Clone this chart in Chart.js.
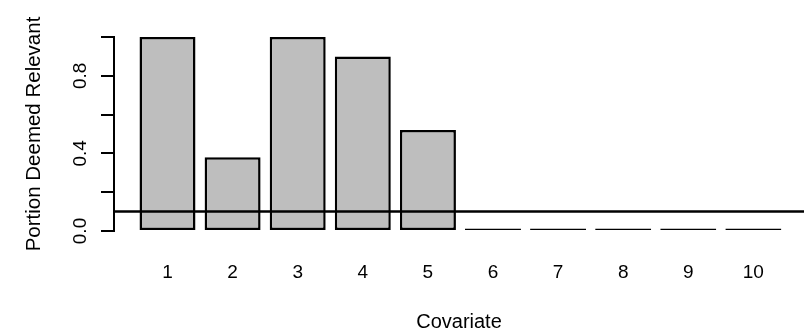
<!DOCTYPE html>
<html>
<head>
<meta charset="utf-8">
<script src="https://cdn.jsdelivr.net/npm/chart.js@4/dist/chart.umd.min.js"></script>
<style>
  body { margin: 0; background: #fff; }
  canvas { display: block; }
</style>
</head>
<body>
<canvas id="myChart" width="804" height="334"></canvas>
<script>
// Covariates and the share of runs in which each one was kept
const covariates = [1, 2, 3, 4, 5, 6, 7, 8, 9, 10];
const portion = [1.0, 0.38, 1.0, 0.9, 0.52, 0, 0.013, 0.013, 0, 0];
const cutoff = 0.1;
const yTickLabels = ["0.0", "0.4", "0.8"];

const xMin = 0.178;
const xMax = 10.778;

const font = "'Liberation Sans', Arial, sans-serif";

const barData = covariates.map((c, i) => ({ x: c, y: portion[i] }));

new Chart(document.getElementById('myChart'), {
    type: 'bar',
    data: {
        datasets: [
            {
                type: 'line',
                data: [{ x: xMin, y: cutoff }, { x: xMax, y: cutoff }],
                borderColor: '#000',
                borderWidth: 2.5,
                pointRadius: 0,
                order: 0
            },
            {
                type: 'bar',
                data: barData,
                backgroundColor: '#bebebe',
                borderColor: '#000',
                borderWidth: 2.5,
                borderSkipped: false,
                minBarLength: 2.5,
                barPercentage: 0.86,
                categoryPercentage: 1,
                order: 1
            }
        ]
    },
    options: {
        responsive: false,
        animation: false,
        layout: { padding: { left: 22, top: 37, right: 0, bottom: 0 } },
        plugins: {
            legend: { display: false },
            tooltip: { enabled: false }
        },
        scales: {
            x: {
                type: 'linear',
                offset: false,
                min: xMin,
                max: xMax,
                afterBuildTicks: scale => {
                    scale.ticks = covariates.map(v => ({ value: v }));
                },
                afterFit: scale => { scale.height = 103; },
                grid: { display: false, drawTicks: false, offset: false },
                border: { display: false },
                ticks: {
                    padding: 30,
                    color: '#000',
                    font: { family: font, size: 19 },
                    callback: v => String(v)
                },
                title: {
                    display: true,
                    text: 'Covariate',
                    color: '#000',
                    font: { family: font, size: 20 },
                    padding: { top: 0, bottom: 0 }
                }
            },
            y: {
                min: 0,
                max: 1,
                afterFit: scale => { scale.width = 92; },
                grid: {
                    drawOnChartArea: false,
                    color: '#000',
                    lineWidth: 2,
                    tickLength: 13
                },
                border: { display: true, color: '#000', width: 2 },
                ticks: {
                    stepSize: 0.2,
                    minRotation: 90,
                    maxRotation: 90,
                    crossAlign: 'center',
                    padding: 7,
                    color: '#000',
                    font: { family: font, size: 19 },
                    callback: (v, i) => (i % 2 === 0 ? yTickLabels[i / 2] : '')
                },
                title: {
                    display: true,
                    text: 'Portion Deemed Relevant',
                    color: '#000',
                    font: { family: font, size: 20.5 },
                    padding: { top: 0, bottom: 0 }
                }
            }
        }
    }
});
</script>
</body>
</html>
